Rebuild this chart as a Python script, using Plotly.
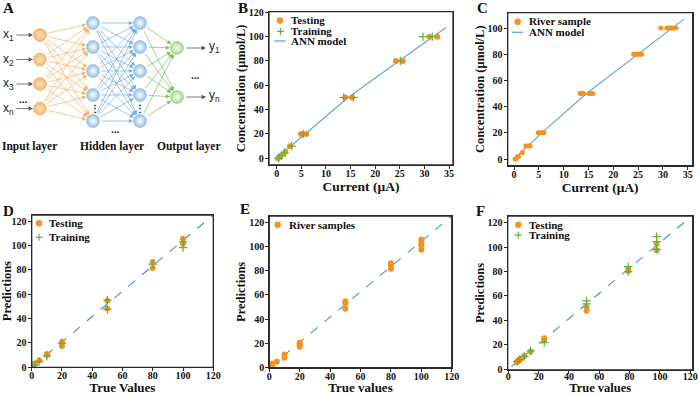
import plotly.graph_objects as go

# ---------------- data ----------------
# Panel B: calibration (current vs concentration)
b_test_current = [0.2, 0.7, 1.7, 2.7, 4.95, 6.0, 13.9, 15.3, 24.2, 25.6, 31.0, 32.6]
b_test_conc = [0, 2, 5, 10, 20, 20, 50, 50, 80, 80, 100, 100]
b_train_current = [0.4, 1.0, 1.6, 3.05, 5.4, 13.6, 15.6, 25.1, 29.7, 31.6]
b_train_conc = [0, 2, 5, 10, 20, 50, 50, 80, 100, 100]
b_ann_current = [0, 2.9, 5.6, 14.5, 24.8, 31.8, 34.4]
b_ann_conc = [0, 10, 20, 50, 80, 100, 107.6]

# Panel C: river samples
c_river_current = [0.2, 0.4, 0.7, 0.9, 1.7, 2.4, 2.8, 3.2, 4.9, 5.3, 5.7, 6.0,
                   13.3, 13.6, 14.0, 15.1, 15.5, 15.9, 24.1, 24.5, 24.9, 25.3, 25.7,
                   29.6, 30.8, 31.2, 31.6, 31.9, 32.6]
c_river_conc = [0, 0, 2, 2, 5, 10, 10, 10, 20, 20, 20, 20,
                50, 50, 50, 50, 50, 50, 80, 80, 80, 80, 80,
                100, 100, 100, 100, 100, 100]
c_ann_current = [0, 2.9, 5.6, 14.6, 25.0, 32.0, 34.3]
c_ann_conc = [0, 10, 20, 50, 80, 100, 107]

# Panel D: predictions vs true values
d_test_true = [2, 2, 5, 10, 10, 20, 20, 50, 50, 80, 80, 100, 100]
d_test_pred = [2.7, 3.2, 5.5, 9.8, 10.9, 21, 17.5, 54.6, 48.3, 86.5, 81.6, 105.6, 101.5]
d_train_true = [2, 5, 10, 20, 50, 50, 80, 100, 100]
d_train_pred = [1.9, 4.9, 9.3, 19.6, 55.1, 47.5, 84.6, 102.9, 98.2]
d_fit_true = [0, 120]
d_fit_pred = [0, 125]

# Panel E: river samples predictions
e_true = [2, 2, 5, 10, 10, 20, 20, 20, 50, 50, 50, 80, 80, 80, 100, 100, 100, 100]
e_pred = [2.2, 3.5, 4.9, 10.9, 8.2, 20.5, 17.2, 19.4, 54.8, 53.2, 48.6, 86, 84, 81.6,
          105.6, 103.1, 101, 97.1]
e_fit_true = [0, 120]
e_fit_pred = [0, 125]

# Panel F
f_test_true = [5.5, 7, 8, 10.5, 14.7, 23.7, 23.7, 51.6, 51.6, 79.1, 79.1, 97.8, 97.8]
f_test_pred = [5.7, 7.1, 8.5, 10.9, 14.5, 24, 25.4, 50.7, 48, 82.1, 80.5, 102.6, 97.4]
f_train_true = [6, 7.5, 10.5, 14.7, 23.7, 51.6, 51.6, 79.1, 79.1, 97.8, 97.8, 97.8]
f_train_pred = [6.5, 8, 10.5, 15, 21.8, 56, 53.5, 84, 80, 108.6, 104.5, 98.2]
f_fit_true = [2, 116]
f_fit_pred = [2.1, 120.3]

# Panel A: network diagram layers
layer_names = ["Input layer", "Hidden layer", "Output layer"]
input_labels = ["x<sub>1</sub>", "x<sub>2</sub>", "x<sub>3</sub>", "x<sub>n</sub>"]
output_labels = ["y<sub>1</sub>", "y<sub>n</sub>"]

# ---------------- styles ----------------
W, H = 700, 395
ORANGE = "#F7921E"
GREEN = "#5FB041"
BLUE = "#6AA5DC"
DASH_BLUE = "#3E8FDD"
FRAME = "#2a2a2a"
SERIF = "Liberation Serif, Times New Roman, serif"
SANS = "Liberation Sans, Arial, sans-serif"


def px(x):
    return x / W


def py(y):
    return 1 - y / H


fig = go.Figure()

# Panel B traces
fig.add_trace(go.Scatter(x=b_ann_current, y=b_ann_conc, mode="lines",
                         line=dict(color=BLUE, width=1.2), xaxis="x", yaxis="y",
                         name="ANN model", showlegend=False))
fig.add_trace(go.Scatter(x=b_test_current, y=b_test_conc, mode="markers",
                         marker=dict(color=ORANGE, size=6), xaxis="x", yaxis="y",
                         name="Testing", showlegend=False))
fig.add_trace(go.Scatter(x=b_train_current, y=b_train_conc, mode="markers",
                         marker=dict(symbol="cross-thin", size=6, line=dict(color=GREEN, width=1.2)),
                         xaxis="x", yaxis="y", name="Training", showlegend=False))

# Panel C traces
fig.add_trace(go.Scatter(x=c_ann_current, y=c_ann_conc, mode="lines",
                         line=dict(color=BLUE, width=1.2), xaxis="x2", yaxis="y2",
                         name="ANN model", showlegend=False))
fig.add_trace(go.Scatter(x=c_river_current, y=c_river_conc, mode="markers",
                         marker=dict(color=ORANGE, size=5), xaxis="x2", yaxis="y2",
                         name="River sample", showlegend=False))

# Panel D traces
fig.add_trace(go.Scatter(x=d_fit_true, y=d_fit_pred, mode="lines",
                         line=dict(color=DASH_BLUE, width=1.1, dash="dash"), xaxis="x3", yaxis="y3",
                         showlegend=False))
fig.add_trace(go.Scatter(x=d_test_true, y=d_test_pred, mode="markers",
                         marker=dict(color=ORANGE, size=6), xaxis="x3", yaxis="y3",
                         name="Testing", showlegend=False))
fig.add_trace(go.Scatter(x=d_train_true, y=d_train_pred, mode="markers",
                         marker=dict(symbol="cross-thin", size=6, line=dict(color=GREEN, width=1.2)),
                         xaxis="x3", yaxis="y3", name="Training", showlegend=False))

# Panel E traces
fig.add_trace(go.Scatter(x=e_fit_true, y=e_fit_pred, mode="lines",
                         line=dict(color=DASH_BLUE, width=1.1, dash="dash"), xaxis="x4", yaxis="y4",
                         showlegend=False))
fig.add_trace(go.Scatter(x=e_true, y=e_pred, mode="markers",
                         marker=dict(color=ORANGE, size=6), xaxis="x4", yaxis="y4",
                         name="River samples", showlegend=False))

# Panel F traces
fig.add_trace(go.Scatter(x=f_fit_true, y=f_fit_pred, mode="lines",
                         line=dict(color=DASH_BLUE, width=1.1, dash="dash"), xaxis="x5", yaxis="y5",
                         showlegend=False))
fig.add_trace(go.Scatter(x=f_test_true, y=f_test_pred, mode="markers",
                         marker=dict(color=ORANGE, size=6), xaxis="x5", yaxis="y5",
                         name="Testing", showlegend=False))
fig.add_trace(go.Scatter(x=f_train_true, y=f_train_pred, mode="markers",
                         marker=dict(symbol="cross-thin", size=6, line=dict(color=GREEN, width=1.2)),
                         xaxis="x5", yaxis="y5", name="Training", showlegend=False))

# ---------------- Panel A diagram ----------------
layer_x = [40, 93, 140, 177]
layer_y = [
    [35, 59.5, 84, 108.5],
    [23, 47, 71, 95, 121],
    [23, 47, 71, 95, 121],
    [48, 97],
]
node_fill = ["#F7B46E", "#93BFE3", "#93BFE3", "#A8D68C"]
node_edge = ["#F2A050", "#7FB0DC", "#7FB0DC", "#8CC46C"]
edge_col = ["#F6B26E", "#78AEE0", "#7DBE5C"]

annotations = []
for li in range(3):
    for y0 in layer_y[li]:
        for y1 in layer_y[li + 1]:
            annotations.append(dict(
                x=layer_x[li + 1], y=y1, ax=layer_x[li], ay=y0,
                xref="x6", yref="y6", axref="x6", ayref="y6", text="",
                showarrow=True, arrowhead=2, arrowsize=1.2, arrowwidth=0.7,
                arrowcolor=edge_col[li], standoff=7, startstandoff=7))

for li in range(4):
    fig.add_trace(go.Scatter(
        x=[layer_x[li]] * len(layer_y[li]), y=layer_y[li], mode="markers",
        marker=dict(size=13, color=node_fill[li],
                    gradient=dict(type="radial", color="#FFFFFF" if li else "#FCE2C2"),
                    line=dict(color=node_edge[li], width=0.5)),
        xaxis="x6", yaxis="y6", showlegend=False, hoverinfo="skip"))

# input arrows and labels
for lab, y in zip(input_labels, layer_y[0]):
    annotations.append(dict(x=33, y=y, ax=15, ay=y, xref="x6", yref="y6", axref="x6", ayref="y6",
                            text="", showarrow=True, arrowhead=2, arrowsize=1.1, arrowwidth=0.8,
                            arrowcolor="#555555"))
    annotations.append(dict(x=8, y=y, xref="x6", yref="y6", text=lab, showarrow=False,
                            font=dict(family=SANS, size=12, color="#222222", weight="normal")))
for lab, y in zip(output_labels, layer_y[3]):
    annotations.append(dict(x=206, y=y, ax=185, ay=y, xref="x6", yref="y6", axref="x6", ayref="y6",
                            text="", showarrow=True, arrowhead=2, arrowsize=1.1, arrowwidth=0.8,
                            arrowcolor="#555555"))
    annotations.append(dict(x=214, y=y - 1, xref="x6", yref="y6", text=lab, showarrow=False,
                            font=dict(family=SANS, size=12, color="#222222", weight="normal")))

dots = [("...", 23, 99), ("...", 195, 75), ("...", 115, 129), ("⋮", 95, 108), ("⋮", 140, 108)]
for t, x, y in dots:
    annotations.append(dict(x=x, y=y, xref="x6", yref="y6", text=t, showarrow=False,
                            font=dict(family=SANS, size=10, color="#222222", weight="bold")))

for name, x in zip(layer_names, [29, 112, 189]):
    annotations.append(dict(x=x, y=146, xref="x6", yref="y6", text=name, showarrow=False,
                            font=dict(family=SERIF, size=11.5, color="#111111", weight="bold")))

# panel letters
for letter, x, y in [("A", 8, 8), ("B", 243, 8), ("C", 482, 8), ("D", 8, 211), ("E", 245, 209), ("F", 480, 211)]:
    annotations.append(dict(x=px(x), y=py(y), xref="paper", yref="paper", text=letter,
                            xanchor="center", yanchor="middle",
                            showarrow=False, font=dict(family=SERIF, size=15, color="#111111", weight="bold")))

# ---------------- legends (manual) ----------------
shapes = []


def leg_dot(x, y, r=3.2):
    shapes.append(dict(type="circle", xref="paper", yref="paper", x0=px(x - r), x1=px(x + r),
                       y0=py(y + r), y1=py(y - r), fillcolor=ORANGE, line=dict(width=0)))


def leg_plus(x, y, r=3.5):
    shapes.append(dict(type="line", xref="paper", yref="paper", x0=px(x - r), x1=px(x + r),
                       y0=py(y), y1=py(y), line=dict(color=GREEN, width=1.2)))
    shapes.append(dict(type="line", xref="paper", yref="paper", x0=px(x), x1=px(x),
                       y0=py(y - r), y1=py(y + r), line=dict(color=GREEN, width=1.2)))


def leg_line(x, y, half=5.5):
    shapes.append(dict(type="line", xref="paper", yref="paper", x0=px(x - half), x1=px(x + half),
                       y0=py(y), y1=py(y), line=dict(color=BLUE, width=1.3)))


def leg_text(x, y, t):
    annotations.append(dict(x=px(x), y=py(y), xref="paper", yref="paper", text=t, showarrow=False,
                            xanchor="left", yanchor="middle",
                            font=dict(family=SERIF, size=11, color="#111111", weight="bold")))


# B
leg_dot(280, 20.5); leg_text(289, 20, "Testing")
leg_plus(280.5, 31.5); leg_text(289, 31, "Training")
leg_line(280, 41); leg_text(289, 41, "ANN model")
# C
leg_dot(517.7, 21.7); leg_text(527, 21.5, "River sample")
leg_line(517.5, 32.3); leg_text(527, 32.3, "ANN model")
# D
leg_dot(39, 223.3); leg_text(47, 223.3, "Testing")
leg_plus(39, 237.3); leg_text(47, 237.3, "Training")
# E
leg_dot(277.7, 224.7); leg_text(286.5, 224.7, "River samples")
# F
leg_dot(518.3, 224.7); leg_text(526.5, 224.7, "Testing")
leg_plus(518.3, 235); leg_text(526.5, 235, "Training")

# frames around each chart panel
for xa, ya in [("x", "y"), ("x2", "y2"), ("x3", "y3"), ("x4", "y4"), ("x5", "y5")]:
    shapes.append(dict(type="rect", xref=xa + " domain", yref=ya + " domain",
                       x0=0, x1=1, y0=0, y1=1, line=dict(color=FRAME, width=1.3),
                       fillcolor="rgba(0,0,0,0)", layer="above"))

# ---------------- axes ----------------
tickfont = dict(family=SERIF, size=10, color="#111111", weight="bold")


def ax(domain, rng, tickvals, title, anchor, lab_off, tsize, standoff=0):
    return dict(domain=domain, range=rng, tickvals=tickvals, showgrid=False, zeroline=False,
                showline=True, linecolor=FRAME, linewidth=1.3, mirror=True,
                ticks="outside", ticklen=3, tickwidth=1, tickcolor=FRAME,
                ticklabelstandoff=lab_off,
                tickfont=tickfont, anchor=anchor, automargin=False,
                title=dict(text=title, standoff=standoff,
                           font=dict(family=SERIF, size=tsize, color="#111111", weight="bold")))


t35 = list(range(0, 36, 5))
t120 = list(range(0, 121, 20))
t100 = list(range(0, 101, 20))

layout = dict(
    width=W, height=H, margin=dict(l=0, r=0, t=0, b=0, autoexpand=False),
    paper_bgcolor="white", plot_bgcolor="white",
    font=dict(family=SERIF, color="#111111"),
    xaxis=ax([px(269), px(453)], [-1.57, 35.8], t35, "Current (μA)", "y", -4, 13.5),
    yaxis=ax([py(165), py(11.7)], [-5.5, 120.5], t120, "Concentration (μmol/L)", "x", -1, 12.5),
    xaxis2=ax([px(507.7), px(692.7)], [-1.27, 36], t35, "Current (μA)", "y2", -4, 13.5),
    yaxis2=ax([py(165.7), py(12.7)], [-5.1, 111.7], t100, "Concentration (μmol/L)", "x2", -1, 12.5),
    xaxis3=ax([px(31.7), px(213.3)], [0, 120], t120, "True Values", "y3", -4, 13),
    yaxis3=ax([py(367.3), py(215)], [0, 125], t120, "Predictions", "x3", -1, 12.5),
    xaxis4=ax([px(269.3), px(451.7)], [0, 120], t120, "True values", "y4", -4, 13),
    yaxis4=ax([py(367.7), py(216)], [0, 125], t120, "Predictions", "x4", -1, 12.5),
    xaxis5=ax([px(507.7), px(692.7)], [-0.4, 121.6], t120, "True values", "y5", -6, 12.5),
    yaxis5=ax([py(370), py(216)], [-0.6, 125.5], t120, "Predictions", "x5", -1, 12.5),
    xaxis6=dict(domain=[0, px(230)], range=[0, 230], visible=False, anchor="y6", fixedrange=True),
    yaxis6=dict(domain=[py(170), 1], range=[170, 0], visible=False, anchor="x6", fixedrange=True),
    annotations=annotations,
    shapes=shapes,
    showlegend=False,
)
fig.update_layout(**layout)
fig.write_html("out.html", config={"displayModeBar": False},
               post_script="document.body.style.margin='0';document.body.style.padding='0';")
